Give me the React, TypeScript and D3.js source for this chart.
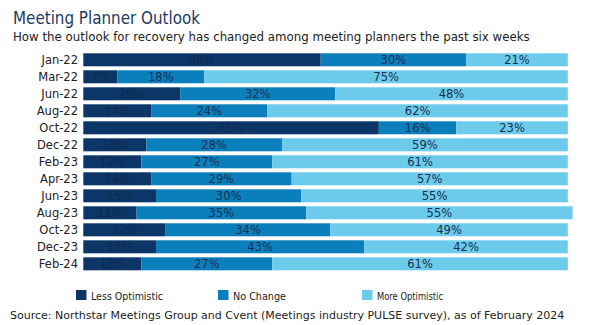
import React from "react";
import * as d3 from "d3";

const categories = ["Jan-22","Mar-22","Jun-22","Aug-22","Oct-22","Dec-22","Feb-23","Apr-23","Jun-23","Aug-23","Oct-23","Dec-23","Feb-24"];
const lessOptimistic = [49,7,20,14,61,13,12,14,15,11,17,15,12];
const noChange = [30,18,32,24,16,28,27,29,30,35,34,43,27];
const moreOptimistic = [21,75,48,62,23,59,61,57,55,55,49,42,61];
const seriesNames = ["Less Optimistic","No Change","More Optimistic"];
const colors = ["#0c3668","#0a7fbc","#6ccbea"];

const W = 591, H = 325;
const FONT = "DejaVu Sans, Verdana, sans-serif";

export default function App() {
  const x = d3.scaleLinear().domain([0, 100]).range([83.3, 567.8]);
  const y = d3.scaleBand<string>().domain(categories).range([51.3, 272.3]).paddingInner(0.235).paddingOuter(0.117);
  const stackData = categories.map((c, i) => ({ c, s0: lessOptimistic[i], s1: noChange[i], s2: moreOptimistic[i] }));
  const stack = d3.stack<any>().keys(["s0","s1","s2"])(stackData);
  const legendX = [76, 218, 362];
  const legendW = [72, 53, 66];
  return (
    <svg width={W} height={H} style={{ position: "absolute", left: 0, top: 0, fontFamily: FONT }}>
      <rect width={W} height={H} fill="#fff" />
      <text x={13} y={24} fontSize={17.5} fill="#1b3a63" textLength={187} lengthAdjust="spacingAndGlyphs">Meeting Planner Outlook</text>
      <text x={13} y={41} fontSize={11.8} fill="#222">How the outlook for recovery has changed among meeting planners the past six weeks</text>
      {categories.map(c => (
        <text key={c} x={78} y={(y(c) as number) + y.bandwidth() / 2} dy="0.35em" textAnchor="end" fontSize={11.5} fill="#222">{c}</text>
      ))}
      {stack.map((layer, si) => (
        <g key={si}>
          {layer.map((d, i) => {
            const v = d[1] - d[0];
            const x0 = x(d[0]), x1 = x(d[1]);
            const yy = y(categories[i]) as number;
            return (
              <g key={i}>
                <rect x={x0} y={yy} width={x1 - x0} height={y.bandwidth()} fill={colors[si]} />
                <text x={(x0 + x1) / 2} y={yy + y.bandwidth() / 2} dy="0.36em" textAnchor="middle" fontSize={11.5} fill={si === 0 ? "#0f2a4a" : "#163050"}>{v}%</text>
              </g>
            );
          })}
        </g>
      ))}
      {seriesNames.map((n, i) => (
        <g key={n}>
          <rect x={legendX[i]} y={290} width={10.5} height={10} fill={colors[i]} />
          <text x={legendX[i] + 15} y={299.5} fontSize={11} fill="#222" textLength={legendW[i]} lengthAdjust="spacingAndGlyphs">{n}</text>
        </g>
      ))}
      <text x={10} y={319} fontSize={11} fill="#222">Source: Northstar Meetings Group and Cvent (Meetings industry PULSE survey), as of February 2024</text>
    </svg>
  );
}
